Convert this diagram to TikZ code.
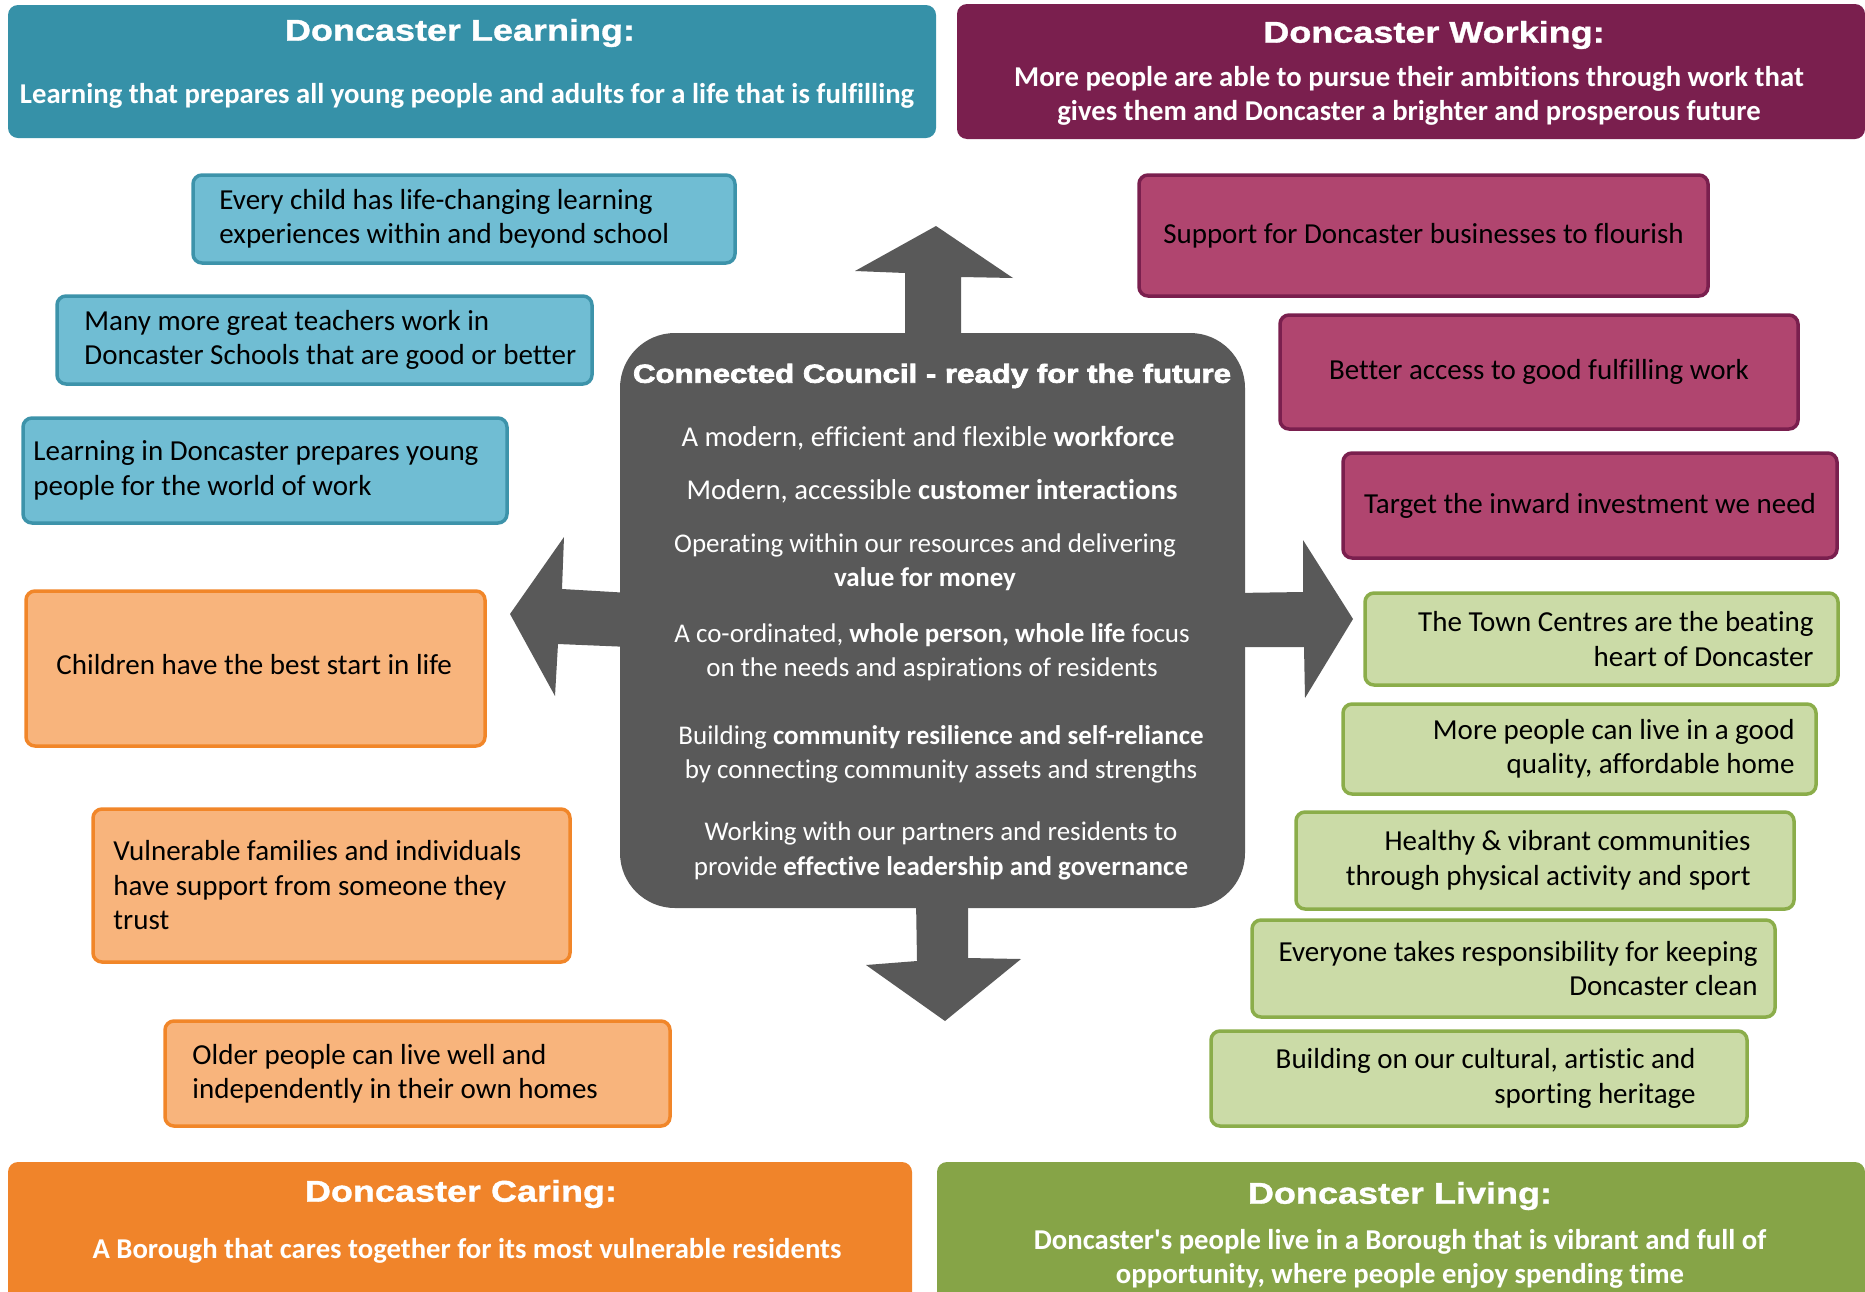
\documentclass[tikz,border=0pt]{standalone}
\usepackage{fontspec}
\usetikzlibrary{positioning}
\setmainfont{Carlito}[Ligatures={NoCommon}]
\newfontfamily\headfont{Liberation Sans Bold}[FakeStretch=1.2, FakeBold=1.2]
\newfontfamily\councilfont{Liberation Sans Bold}[FakeStretch=1.2, FakeBold=3]
\newcommand\goalfont{\fontsize{29}{34.5}\selectfont}

\definecolor{learndark}{HTML}{3691A8}
\definecolor{learnfill}{HTML}{70BDD3}
\definecolor{learnline}{HTML}{3D93AA}
\definecolor{workdark}{HTML}{7A1F4E}
\definecolor{workfill}{HTML}{B0456F}
\definecolor{workline}{HTML}{7A1F4E}
\definecolor{caredark}{HTML}{F0842A}
\definecolor{carefill}{HTML}{F8B47C}
\definecolor{careline}{HTML}{F18629}
\definecolor{livedark}{HTML}{86A447}
\definecolor{livefill}{HTML}{CBDBA7}
\definecolor{liveline}{HTML}{8BAD4A}
\definecolor{councilgrey}{HTML}{595959}

\tikzset{
	goal/.style={draw, line width=3.5pt, rounded corners=9pt, inner sep=0pt, font=\goalfont, text=black},
	learngoal/.style={goal, fill=learnfill, draw=learnline},
	caregoal/.style={goal, fill=carefill, draw=careline},
	workgoal/.style={goal, fill=workfill, draw=workline, align=center},
	livegoal/.style={goal, fill=livefill, draw=liveline},
	goaltext/.style={inner sep=0pt, font=\goalfont, text=black},
	theme/.style={rounded corners=10pt, inner sep=0pt},
	themetitle/.style={text=white, inner sep=0pt, font=\headfont\fontsize{30}{30}\selectfont},
	themetext/.style={text=white, inner sep=0pt, align=center, font=\fontsize{28.7}{33.5}\selectfont\bfseries},
	plan/.style={text=white, inner sep=0pt, align=center, font=\fontsize{27}{34.5}\selectfont},
}

\begin{document}
\begin{tikzpicture}[x=1pt, y=-1pt]
	\useasboundingbox (0,0) rectangle (1865,1291);

	\node[theme, fill=learndark, minimum width=928pt, minimum height=133pt] (learnhead) at (472,71.5) {};
	\node[themetitle] (learntitle) at (460,33) {Doncaster Learning:};
	\node[themetext] (learntext) at (467,96) {Learning that prepares all young people and adults for a life that is fulfilling};

	\node[theme, fill=workdark, minimum width=908pt, minimum height=135pt] (workhead) at (1411,71.5) {};
	\node[themetitle] (worktitle) at (1434,35) {Doncaster Working:};
	\node[themetext] (worktext) at (1409,96) {More people are able to pursue their ambitions through work that\\gives them and Doncaster a brighter and prosperous future};

	\node[theme, fill=caredark, minimum width=904pt, minimum height=148pt] (carehead) at (460,1236) {};
	\node[themetitle] (caretitle) at (461,1194) {Doncaster Caring:};
	\node[themetext] (caretext) at (467,1251) {A Borough that cares together for its most vulnerable residents};

	\node[theme, fill=livedark, minimum width=928pt, minimum height=148pt] (livehead) at (1401,1236) {};
	\node[themetitle] (livetitle) at (1400,1196) {Doncaster Living:};
	\node[themetext] (livetext) at (1400,1259) {Doncaster\textquotesingle s people live in a Borough that is vibrant and full of\\opportunity, where people enjoy spending time};

	\fill[councilgrey] (905,345) -- (905,273) -- (855,271) -- (936,226) -- (1013,278) -- (961,277) -- (961,345) -- cycle;
	\fill[councilgrey] (630,593) -- (562,589) -- (564,537) -- (510,614) -- (555,696) -- (558,644) -- (630,647) -- cycle;
	\fill[councilgrey] (1235,593) -- (1303,592) -- (1303,540) -- (1353,619) -- (1305,698) -- (1304,647) -- (1235,647) -- cycle;
	\fill[councilgrey] (916,900) -- (917,961) -- (866,965) -- (945,1021) -- (1021,959) -- (968,958) -- (968,900) -- cycle;

	\node[fill=councilgrey, rounded corners=55pt, minimum width=625pt, minimum height=575pt] (council) at (932.5,620.5) {};
	\node[text=white, inner sep=0pt, font=\councilfont\fontsize{26}{26}\selectfont] (counciltitle) at (932,376) {Connected Council - ready for the future};
	\node[plan, font=\fontsize{28.7}{34.5}\selectfont] (workforce) at (928,438) {A modern, efficient and flexible \textbf{workforce}};
	\node[plan, font=\fontsize{28.7}{34.5}\selectfont] (customer) at (932,491) {Modern, accessible \textbf{customer interactions}};
	\node[plan] (value) at (925,562) {Operating within our resources and delivering\\\textbf{value for money}};
	\node[plan] (wholelife) at (932,652) {A co-ordinated, \textbf{whole person, whole life} focus\\on the needs and aspirations of residents};
	\node[plan] (resilience) at (941,754.5) {Building \textbf{community resilience and self-reliance}\\by connecting community assets and strengths};
	\node[plan] (leadership) at (941,851) {Working with our partners and residents to\\provide \textbf{effective leadership and governance}};

	\node[learngoal, minimum width=542pt, minimum height=88pt] (experiencesbox) at (464,219) {};
	\node[goaltext, align=left, right=28pt of experiencesbox.west] (experiences) {Every child has life-changing learning\\experiences within and beyond school};
	\node[learngoal, minimum width=535pt, minimum height=88pt] (teachersbox) at (324.5,340) {};
	\node[goaltext, align=left, right=29pt of teachersbox.west] (teachers) {Many more great teachers work in\\Doncaster Schools that are good or better};
	\node[learngoal, minimum width=484pt, minimum height=105pt] (worldofworkbox) at (265,470.5) {};
	\node[goaltext, align=left, right=12pt of worldofworkbox.west] (worldofwork) {Learning in Doncaster prepares young\\people for the world of work};

	\node[caregoal, minimum width=459pt, minimum height=155pt] (beststartbox) at (255.5,668.5) {};
	\node[goaltext, align=left, right=32pt of beststartbox.west, yshift=4pt] (beststart) {Children have the best start in life};
	\node[caregoal, minimum width=477pt, minimum height=153pt] (trustbox) at (331.5,885.5) {};
	\node[goaltext, align=left, right=22pt of trustbox.west] (trust) {Vulnerable families and individuals\\have support from someone they\\trust};
	\node[caregoal, minimum width=505pt, minimum height=105pt] (ownhomesbox) at (417.5,1073.5) {};
	\node[goaltext, align=left, right=29pt of ownhomesbox.west] (ownhomes) {Older people can live well and\\independently in their own homes};

	\node[workgoal, minimum width=569pt, minimum height=121pt] (businesses) at (1423.5,235.5) {Support for Doncaster businesses to flourish};
	\node[workgoal, minimum width=518pt, minimum height=114pt] (goodwork) at (1539,372) {Better access to good fulfilling work};
	\node[workgoal, minimum width=494pt, minimum height=105pt] (investment) at (1590,505.5) {Target the inward investment we need};

	\node[livegoal, minimum width=473pt, minimum height=92pt] (towncentresbox) at (1601.5,639) {};
	\node[goaltext, align=right, left=26pt of towncentresbox.east] (towncentres) {The Town Centres are the beating\\heart of Doncaster};
	\node[livegoal, minimum width=473pt, minimum height=90pt] (homebox) at (1579.5,749) {};
	\node[goaltext, align=right, left=23pt of homebox.east] (home) {More people can live in a good\\quality, affordable home};
	\node[livegoal, minimum width=498pt, minimum height=97pt] (sportbox) at (1545,860.5) {};
	\node[goaltext, align=right, left=45pt of sportbox.east] (sport) {Healthy \& vibrant communities\\through physical activity and sport};
	\node[livegoal, minimum width=523pt, minimum height=97pt] (cleanbox) at (1513.5,968.5) {};
	\node[goaltext, align=right, left=19pt of cleanbox.east] (clean) {Everyone takes responsibility for keeping\\Doncaster clean};
	\node[livegoal, minimum width=536pt, minimum height=95pt] (heritagebox) at (1479,1078.5) {};
	\node[goaltext, align=right, left=53pt of heritagebox.east] (heritage) {Building on our cultural, artistic and\\sporting heritage};
\end{tikzpicture}
\end{document}
